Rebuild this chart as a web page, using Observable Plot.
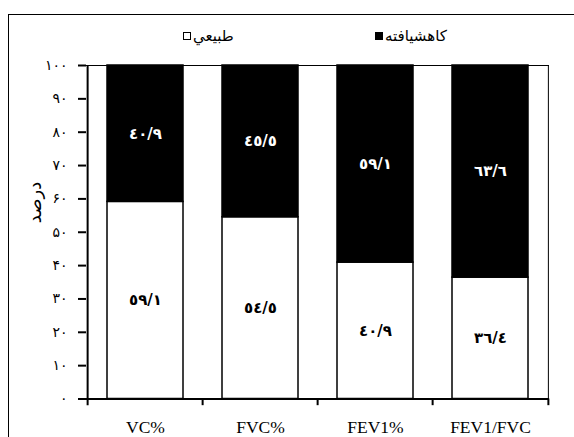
<!DOCTYPE html>
<html><head><meta charset="utf-8">
<script src="https://cdn.jsdelivr.net/npm/d3@7"></script>
<script src="https://cdn.jsdelivr.net/npm/@observablehq/plot@0.6"></script>
<style>
body{margin:0;background:#fff;overflow:hidden;}
#wrap{position:relative;width:574px;height:437px;overflow:hidden;background:#fff;}
#border{position:absolute;left:8px;top:14px;width:620px;height:520px;border:1.3px solid #000;box-sizing:border-box;pointer-events:none;}
#legend{position:relative;height:50px;font-family:"DejaVu Sans",sans-serif;font-size:15px;color:#000;}
.item{position:absolute;top:27px;display:flex;align-items:center;direction:ltr;height:18px;}
.sw{width:8px;height:8px;box-sizing:border-box;border:1.5px solid #000;margin-right:2px;}
#chart svg{display:block;}
</style></head><body>
<div id="wrap"><div id="border"></div><div id="legend"></div><div id="chart"></div></div>
<script>
const categories = ["VC%", "FVC%", "FEV1%", "FEV1/FVC"];
const normal = [59.1, 54.5, 40.9, 36.4];
const reduced = [40.9, 45.5, 59.1, 63.6];
const groups = ["طبيعي", "كاهشيافته"];
const groupColors = ["white", "black"];
const yTicks = [0, 10, 20, 30, 40, 50, 60, 70, 80, 90, 100];
const yLabel = "درصد";

const fmtAr = v => v.toFixed(1).replace(".", "/").replace(/\d/g, d => "٠١٢٣٤٥٦٧٨٩"[d]);
const fmtFa = v => String(v).replace(/\d/g, d => "۰۱۲۳۴۵۶۷۸۹"[d]);

// legend
const legend = document.getElementById("legend");
const legendLeft = [183, 375];
groups.forEach((g, i) => {
  const it = document.createElement("div");
  it.className = "item";
  it.style.left = legendLeft[i] + "px";
  const sw = document.createElement("span");
  sw.className = "sw";
  sw.style.background = groupColors[i];
  const tx = document.createElement("span");
  tx.textContent = g;
  it.appendChild(sw); it.appendChild(tx);
  legend.appendChild(it);
});

const W = 574, H = 387, mL = 86, mR = 25, mT = 15, mB = 38.5;
const step = (W - mL - mR) / categories.length;

const data = categories.flatMap((c, i) => [
  {cat: c, group: groups[0], v: normal[i], mid: normal[i] / 2},
  {cat: c, group: groups[1], v: reduced[i], mid: normal[i] + reduced[i] / 2}
]);
const last = categories[categories.length - 1];

const chart = Plot.plot({
  width: W, height: H,
  marginLeft: mL, marginRight: mR, marginTop: mT, marginBottom: mB,
  x: {domain: categories, paddingInner: 0.335, paddingOuter: 0.1675, axis: null},
  y: {domain: [0, 100], axis: null},
  color: {domain: groups, range: groupColors},
  style: {background: "transparent", overflow: "visible", color: "black"},
  marks: [
    Plot.barY(data, Plot.stackY({x: "cat", y: "v", fill: "group", stroke: "black", strokeWidth: 1.5})),
    Plot.text(data.filter(d => d.group === groups[0]), {x: "cat", y: "mid", text: d => fmtAr(d.v), fill: "black", fontWeight: "bold", fontSize: 15, fontFamily: "DejaVu Sans"}),
    Plot.text(data.filter(d => d.group === groups[1]), {x: "cat", y: "mid", text: d => fmtAr(d.v), fill: "white", fontWeight: "bold", fontSize: 15, fontFamily: "DejaVu Sans"}),
    Plot.ruleY([100], {stroke: "black", strokeWidth: 1}),
    Plot.ruleX([last], {x: d => d, dx: step / 2, y1: 0, y2: 100, stroke: "black", strokeWidth: 1}),
    Plot.ruleY([0], {stroke: "black", strokeWidth: 2}),
    Plot.ruleX([categories[0]], {x: d => d, dx: -step / 2, y1: -2, y2: 100, stroke: "black", strokeWidth: 2}),
    Plot.ruleX(categories.slice(1), {x: d => d, dx: -step / 2, y1: -2, y2: 0, stroke: "black", strokeWidth: 2}),
    Plot.ruleX([last], {x: d => d, dx: step / 2, y1: -2, y2: 0, stroke: "black", strokeWidth: 2}),
    Plot.axisY(yTicks, {tickSize: 8, tickPadding: 11, tickFormat: fmtFa, fontSize: 14, strokeWidth: 2, fontFamily: "DejaVu Sans", label: null}),
    Plot.axisX({tickSize: 0, tickPadding: 22, fontSize: 17.5, fontFamily: "Liberation Serif", label: null}),
    Plot.text([yLabel], {frameAnchor: "left", dx: -51, dy: -9, rotate: -90, fontSize: 18, fontFamily: "DejaVu Sans", fill: "black"})
  ]
});
document.getElementById("chart").appendChild(chart);
</script>
</body></html>
